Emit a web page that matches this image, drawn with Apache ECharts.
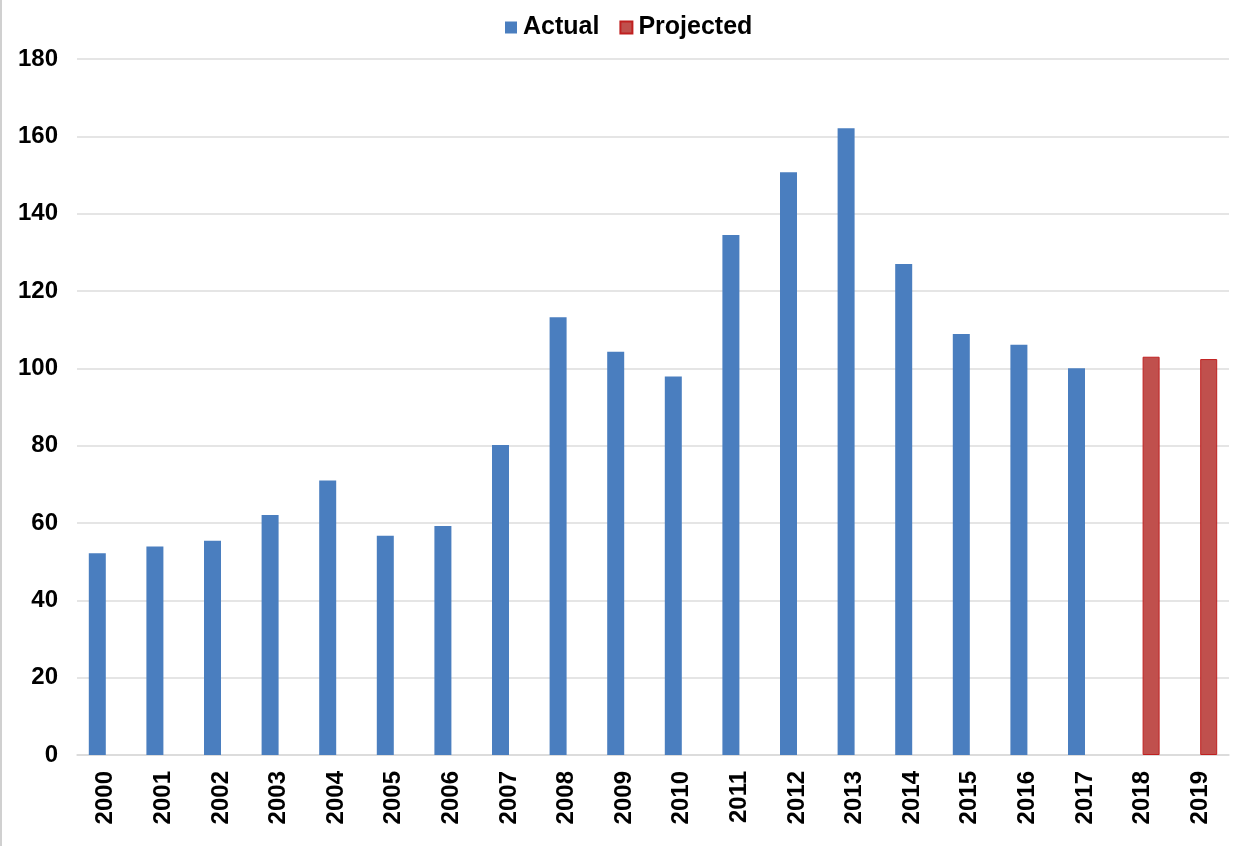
<!DOCTYPE html>
<html>
<head>
<meta charset="utf-8">
<script src="https://cdn.jsdelivr.net/npm/echarts@6/dist/echarts.min.js"></script>
<style>
html,body{margin:0;padding:0;background:#fff;}
#c{width:1238px;height:846px;box-sizing:border-box;border-left:2px solid #d0d0d0;}
</style>
</head>
<body>
<div id="c"></div>
<script>
const years = ['2000','2001','2002','2003','2004','2005','2006','2007','2008','2009','2010','2011','2012','2013','2014','2015','2016','2017','2018','2019'];
const actual = [52.2,53.9,55.4,62.1,71.0,56.7,59.2,80.2,113.2,104.3,97.9,134.5,150.7,162.1,127.0,108.9,106.1,100.0,null,null];
const projected = [null,null,null,null,null,null,null,null,null,null,null,null,null,null,null,null,null,null,103.0,102.4];
const seriesNames = ['Actual','Projected'];

const chart = echarts.init(document.getElementById('c'));
const font = '"Liberation Sans", Arial, sans-serif';
chart.setOption({
  animation:false,
  backgroundColor:'#ffffff',
  textStyle:{fontFamily:font},
  legend:{
    data:seriesNames,
    left:498, top:10,
    icon:'rect', itemWidth:12, itemHeight:12, itemGap:20,
    textStyle:{fontFamily:font, fontSize:25, fontWeight:'bold', color:'#000', padding:[0,0,0,1]}
  },
  grid:{left:75, right:9, top:59, bottom:91, containLabel:false},
  xAxis:{
    type:'category', data:years,
    axisLine:{show:true, lineStyle:{color:'#d9d9d9', width:1.5}},
    axisTick:{show:false},
    axisLabel:{rotate:90, margin:16, fontFamily:font, fontSize:24, fontWeight:'bold', color:'#000'}
  },
  yAxis:{
    type:'value', min:0, max:180, interval:20,
    axisLine:{show:false}, axisTick:{show:false},
    splitLine:{lineStyle:{color:'#dcdcdc', width:1.5}},
    axisLabel:{margin:19, fontFamily:font, fontSize:24, fontWeight:'bold', color:'#000'}
  },
  series:[
    {name:seriesNames[0], type:'bar', data:actual, barWidth:17, barGap:'0%',
     itemStyle:{color:'#4A7EBF'}},
    {name:seriesNames[1], type:'bar', data:projected, barWidth:17, barGap:'0%',
     itemStyle:{color:'#C0504D', borderColor:'#C02020', borderWidth:1}}
  ]
});
</script>
</body>
</html>
